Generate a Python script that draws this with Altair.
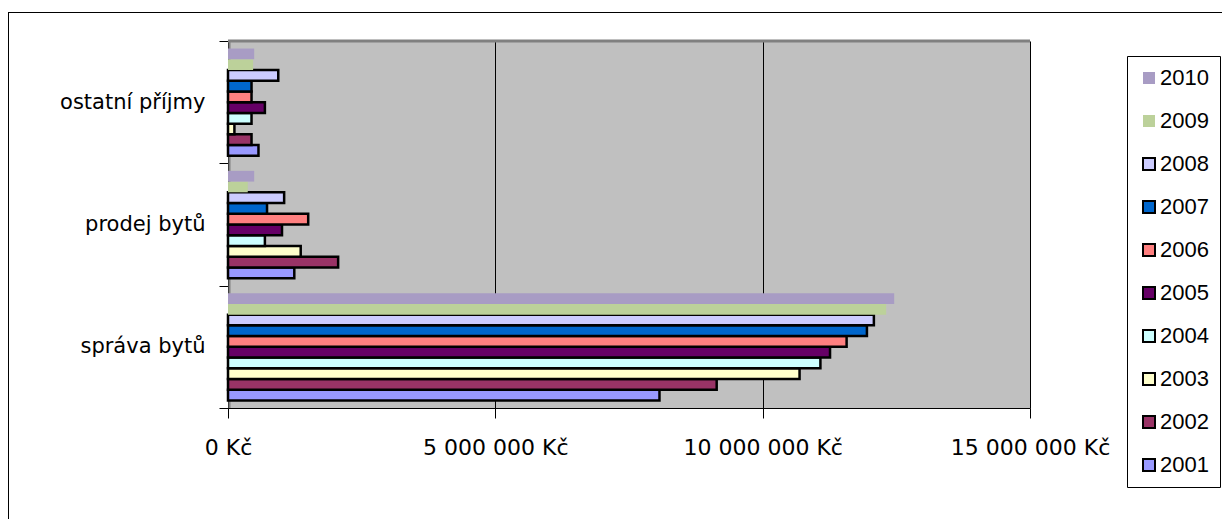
import altair as alt
import pandas as pd

categories = ["ostatní příjmy", "prodej bytů", "správa bytů"]
years = ["2001", "2002", "2003", "2004", "2005", "2006", "2007", "2008", "2009", "2010"]
ostatni = [570000, 440000, 120000, 440000, 690000, 440000, 440000, 940000, 470000, 490000]
prodej = [1240000, 2060000, 1360000, 690000, 1010000, 1500000, 730000, 1050000, 370000, 490000]
sprava = [8070000, 9140000, 10690000, 11080000, 11260000, 11570000, 11950000, 12080000, 12310000, 12460000]
colors = ["#9999FF", "#993366", "#FFFFCC", "#CCFFFF", "#660066",
          "#FF8080", "#0066CC", "#CCCCFF", "#BCD19A", "#A89CC4"]
strokes = ["black"] * 8 + ["transparent"] * 2
x_ticks = [0, 5000000, 10000000, 15000000]

rows = []
for cat, vals in zip(categories, [ostatni, prodej, sprava]):
    for y, v in zip(years, vals):
        rows.append({"category": cat, "year": y, "value": v})
df = pd.DataFrame(rows)

years_desc = years[::-1]
colors_desc = colors[::-1]
strokes_desc = strokes[::-1]

FONT = "DejaVu Sans"

legend = alt.Legend(
    title=None, orient="none", legendX=899, legendY=15, direction="vertical",
    symbolType="square", symbolSize=144, symbolStrokeWidth=2,
    labelFont="Liberation Sans", labelFontSize=22, labelColor="black", labelOffset=0,
    rowPadding=21, padding=11, strokeColor="black", fillColor="white",
    labelLimit=200,
)

bars = alt.Chart(df).mark_bar(strokeWidth=2.5).encode(
    x=alt.X(
        "value:Q",
        scale=alt.Scale(domain=[0, 15000000], nice=False),
        axis=alt.Axis(
            values=x_ticks,
            labelExpr="replace(format(datum.value, ','), regexp(',', 'g'), ' ') + ' Kč'",
            grid=True, gridColor="black", gridOpacity=1, gridWidth=1,
            domainColor="black", tickColor="black", tickSize=10,
            labelFont=FONT, labelFontSize=22, labelColor="black",
            labelPadding=19, labelFlush=False, labelOverlap=False, title=None,
        ),
    ),
    y=alt.Y(
        "category:N", sort=categories,
        scale=alt.Scale(domain=categories, paddingInner=0, paddingOuter=0),
        axis=alt.Axis(
            title=None, tickBand="extent", tickSize=9, tickColor="black",
            domainColor="black", labelFont=FONT, labelFontSize=21,
            labelColor="black", labelPadding=14, grid=False, labelLimit=300,
        ),
    ),
    yOffset=alt.YOffset(
        "year:N", sort=years_desc,
        scale=alt.Scale(domain=years_desc, paddingInner=0, paddingOuter=0.7),
    ),
    fill=alt.Fill("year:N", scale=alt.Scale(domain=years_desc, range=colors_desc), legend=legend),
    stroke=alt.Stroke("year:N", scale=alt.Scale(domain=years_desc, range=strokes_desc), legend=legend),
)

one = pd.DataFrame({"a": [0]})
top_strip = alt.Chart(one).mark_rule(color="#808080", strokeWidth=3).encode(
    x=alt.value(0), x2=alt.value(802), y=alt.value(0)
)
left_strip = alt.Chart(one).mark_rule(color="#808080", strokeWidth=2).encode(
    x=alt.value(1.5), y=alt.value(0), y2=alt.value(367)
)
frame_top = alt.Chart(one).mark_rule(color="black", strokeWidth=1).encode(
    x=alt.value(-220), x2=alt.value(1100), y=alt.value(-28.5)
)
frame_left = alt.Chart(one).mark_rule(color="black", strokeWidth=1).encode(
    x=alt.value(-219.5), y=alt.value(-29), y2=alt.value(600)
)

chart = alt.layer(top_strip, left_strip, bars, frame_top, frame_left).properties(
    width=802, height=367,
    autosize=alt.AutoSizeParams(type="none"),
    padding={"left": 220, "top": 33, "right": 192, "bottom": 111},
    background="white",
).configure_view(fill="#C0C0C0", stroke="transparent")

chart.save("out.html", embed_options={"renderer": "svg", "actions": False})
